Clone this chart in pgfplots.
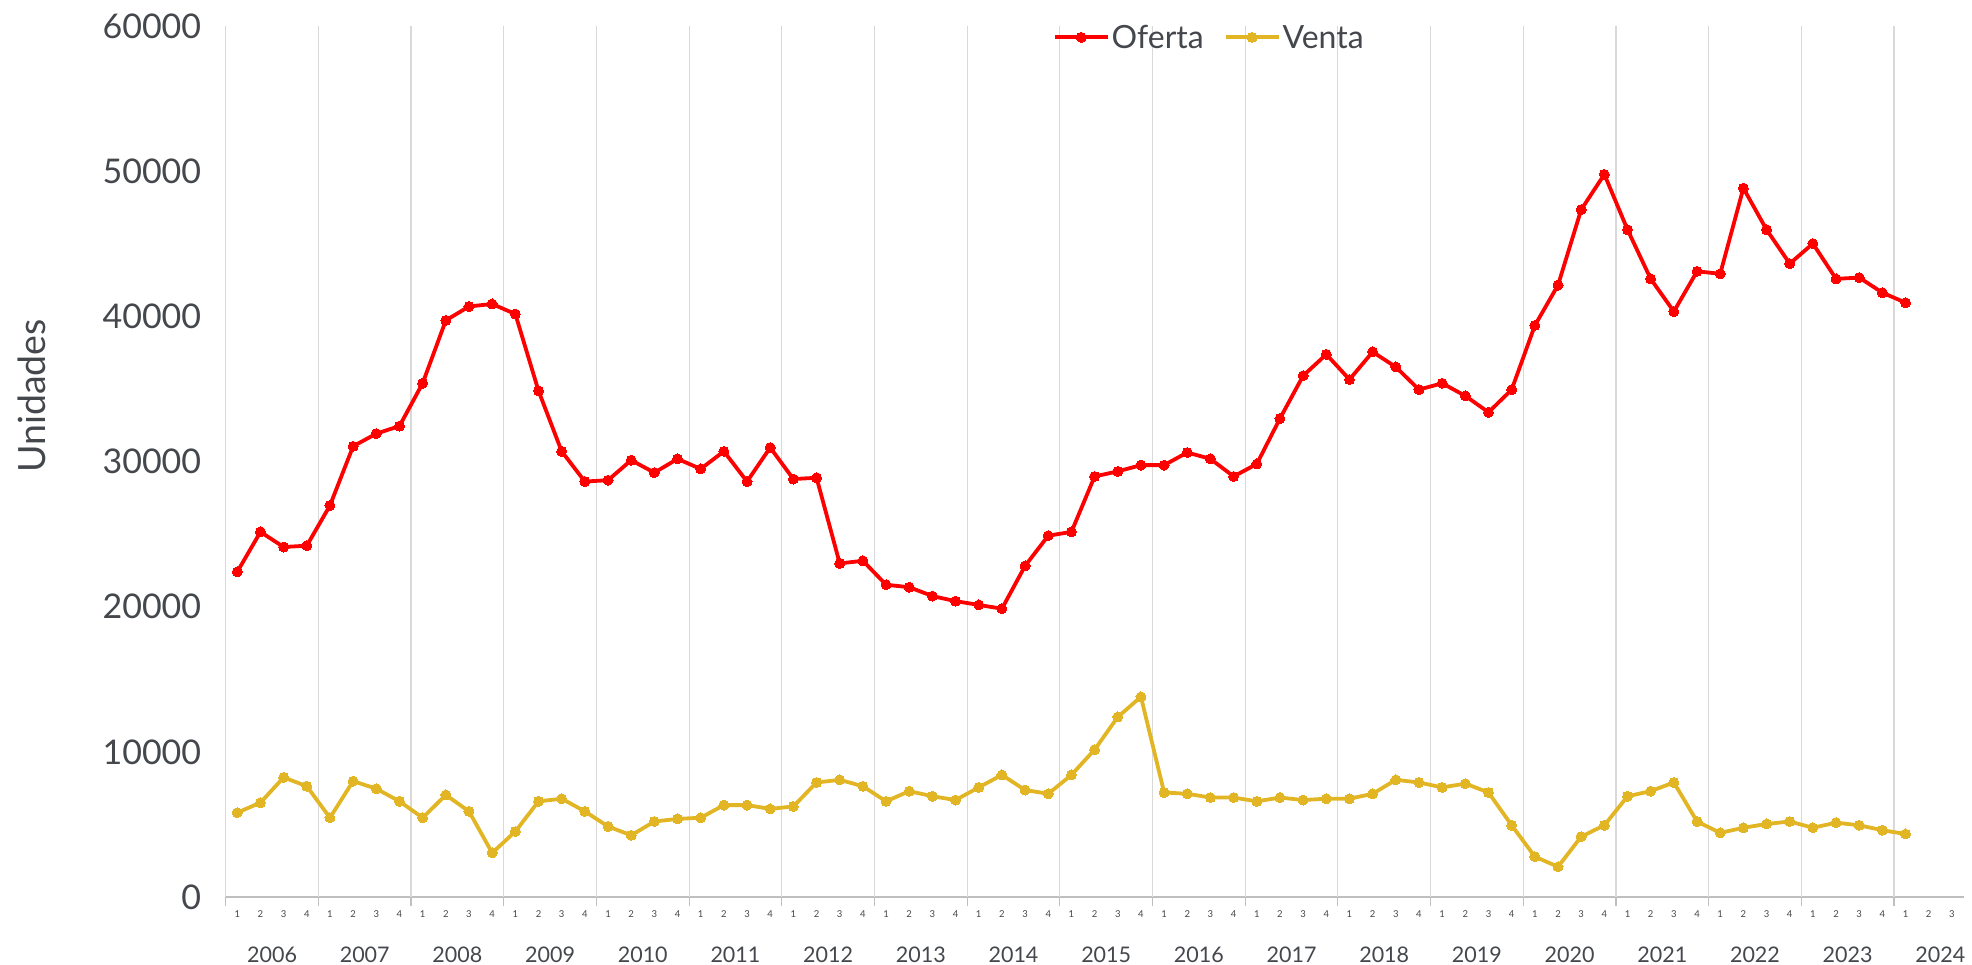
\documentclass[border=0pt]{standalone}
\usepackage{pgfplots}
\pgfplotsset{compat=1.18}
\usepackage{pgfplotstable}
\usepackage{fontspec}
\setmainfont{Lato}
\definecolor{ofer}{RGB}{255,0,0}
\definecolor{vent}{RGB}{226,181,36}
\definecolor{txt}{RGB}{68,71,76}
\definecolor{gridc}{RGB}{217,217,217}
\definecolor{axc}{RGB}{191,191,191}

\pgfplotstableread{
x oferta venta
0 22400 5810
1 25150 6500
2 24110 8240
3 24200 7630
4 26970 5460
5 31050 7980
6 31920 7460
7 32440 6590
8 35390 5460
9 39720 7030
10 40680 5900
11 40850 3040
12 40160 4510
13 34870 6590
14 30700 6770
15 28620 5900
16 28710 4860
17 30090 4250
18 29230 5200
19 30180 5380
20 29490 5460
21 30700 6330
22 28620 6330
23 30960 6070
24 28790 6240
25 28880 7890
26 22980 8070
27 23160 7630
28 21510 6590
29 21340 7290
30 20730 6940
31 20380 6680
32 20120 7550
33 19860 8410
34 22810 7370
35 24890 7110
36 25150 8410
37 28970 10150
38 29320 12400
39 29750 13790
40 29750 7200
41 30620 7110
42 30180 6850
43 28970 6850
44 29830 6590
45 32960 6850
46 35910 6680
47 37380 6770
48 35650 6770
49 37550 7110
50 36510 8070
51 34950 7890
52 35390 7550
53 34520 7810
54 33390 7200
55 34950 4940
56 39370 2780
57 42150 2080
58 47350 4160
59 49780 4940
60 45970 6940
61 42580 7290
62 40330 7890
63 43100 5200
64 42930 4420
65 48830 4770
66 45970 5030
67 43630 5200
68 45010 4770
69 42580 5120
70 42670 4940
71 41630 4600
72 40940 4340
}\datatable

\begin{document}
\begin{tikzpicture}
\useasboundingbox (0,0) rectangle (1972pt,964pt);
\begin{axis}[
  at={(225.7pt,67pt)}, anchor=south west,
  scale only axis, width=1737.8pt, height=871pt,
  xmin=-0.5, xmax=74.5, ymin=0, ymax=60000,
  clip=false,
  axis line style={axc, line width=1.2pt},
  axis x line*=bottom, axis y line*=left,
  xtick={0,...,74},
  xticklabel={\pgfmathtruncatemacro\q{mod(\tick,4)+1}\q},
  xticklabel style={font=\fontsize{9.5}{11}\selectfont, text=txt, anchor=center, yshift=-16.7pt},
  major tick length=0pt,
  extra x ticks={-0.5,3.5,...,71.5},
  extra x tick labels={},
  extra x tick style={grid=major, major tick length=9pt, tick align=outside, tick style={axc, line width=1.2pt}},
  grid style={gridc, line width=1.2pt},
  ytick={0,10000,...,60000},
  y tick style={axc, line width=1.2pt},
  ytick style={axc},
  yticklabel style={font=\fontsize{34}{39}\selectfont, text=txt, anchor=east, xshift=-21pt},
  /pgf/number format/assume math mode=true,
  /pgf/number format/1000 sep={},
  scaled y ticks=false,
  ylabel={Unidades},
  ylabel style={font=\fontsize{37.5}{42}\selectfont, text=txt, at={(axis description cs:-0.1116,0.575)}, anchor=center},
  legend style={at={(axis description cs:0.566,0.987)}, anchor=center, draw=none, fill=none,
     font=\fontsize{32}{36}\selectfont, text=txt, legend columns=2,
     /tikz/every even column/.append style={column sep=18pt}},
  legend cell align=left,
  legend image code/.code={\draw[#1] (0pt,0pt) -- (53pt,0pt); \draw[#1, only marks] plot coordinates {(26.5pt,0pt)};},
]
\addplot[ofer, line width=3.8pt, mark=*, mark size=5pt, mark options={solid, fill=ofer, draw=ofer, line width=0pt}] table[x=x, y=oferta] {\datatable};
\addlegendentry{Oferta}
\addplot[vent, line width=3.8pt, mark=*, mark size=5pt, mark options={solid, fill=vent, draw=vent, line width=0pt}] table[x=x, y=venta] {\datatable};
\addlegendentry{Venta}
\pgfplotsinvokeforeach{0,...,18}{
  \node[font=\fontsize{21.5}{25}\selectfont, text=txt, anchor=center] at (axis cs:{#1*4+1.5},0) [yshift=-57.5pt] {\pgfmathtruncatemacro\yr{2006+#1}\yr};
}
\end{axis}
\end{tikzpicture}
\end{document}
